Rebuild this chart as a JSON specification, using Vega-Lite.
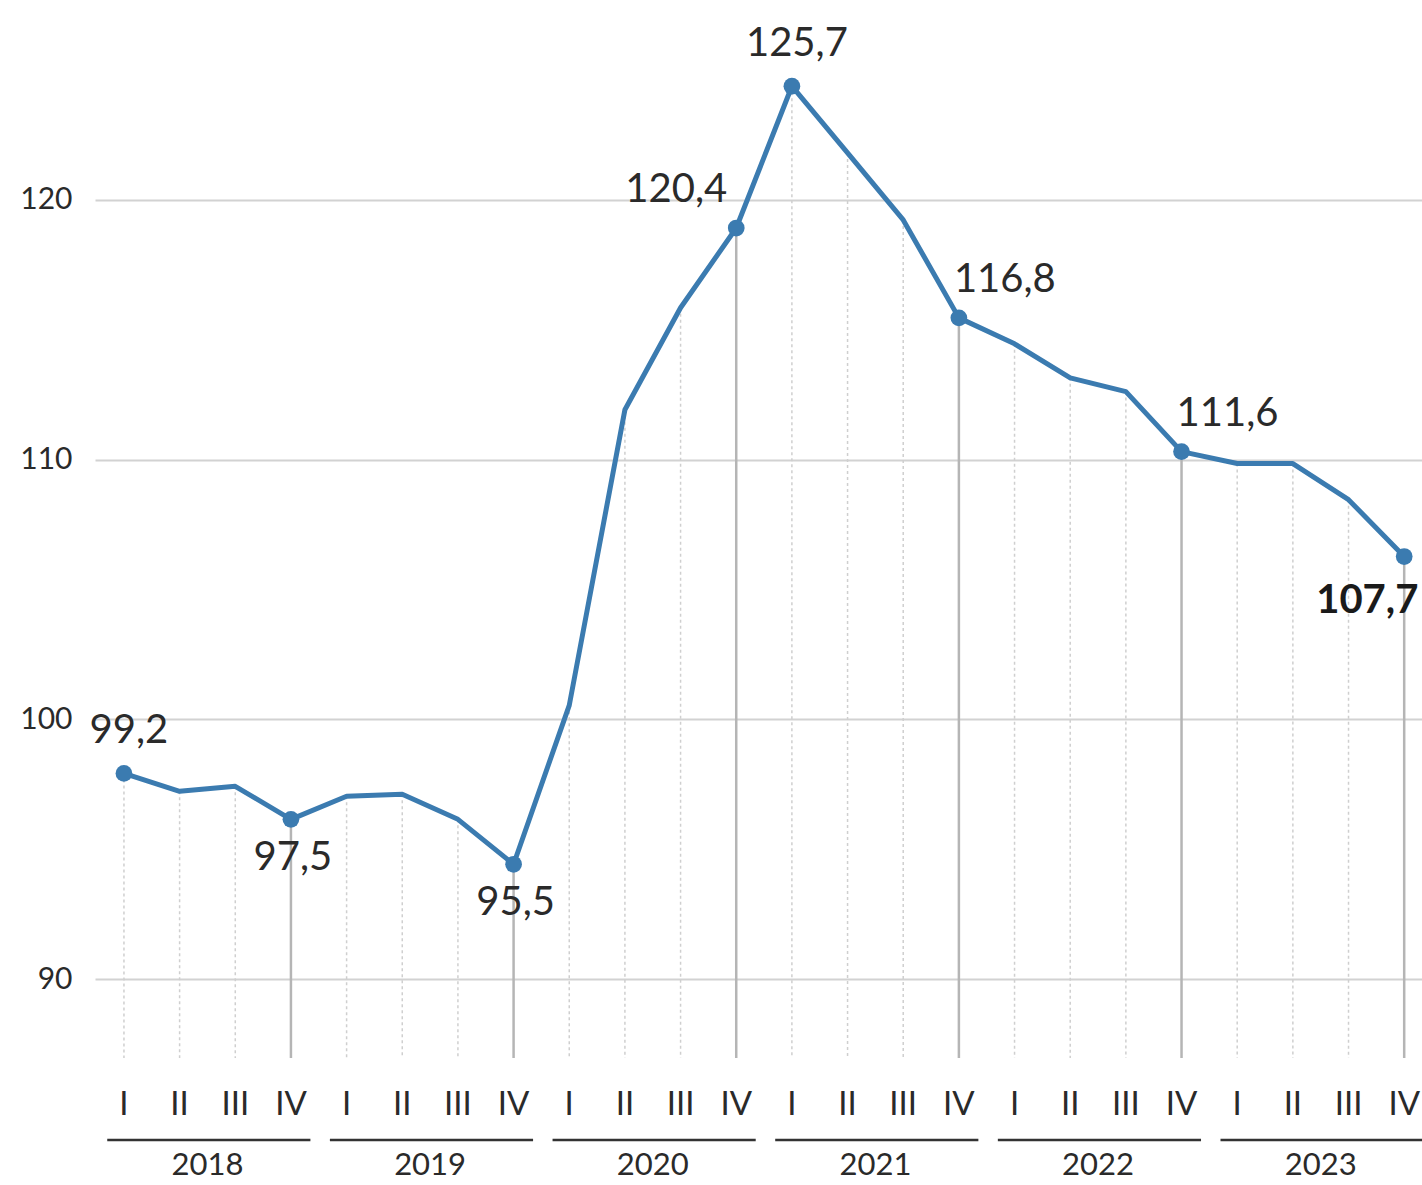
{
  "$schema": "https://vega.github.io/schema/vega-lite/v6.json",
  "autosize": {"type": "none"},
  "padding": {"left": 95, "top": 0, "right": 0, "bottom": 0},
  "width": 1327,
  "height": 1185,
  "background": "white",
  "config": {"view": {"stroke": null}, "text": {"font": "Lato"}},
  "layer": [
    {
      "data": {"name": "q"},
      "transform": [{"filter": "datum.q != 'IV'"}],
      "mark": {"type": "rule", "color": "#cfcfcf", "strokeWidth": 1.5, "strokeDash": [3, 3]},
      "encoding": {
        "x": {"field": "i", "type": "quantitative", "scale": {"domain": [-0.52, 23.32], "nice": false, "zero": false}, "axis": null},
        "y": {"field": "v", "type": "quantitative", "scale": {"domain": [82.07, 127.7], "nice": false, "zero": false},
          "axis": {"values": [90, 100, 110, 120], "title": null, "domain": false, "ticks": false, "grid": true, "gridColor": "#d2d2d2", "gridWidth": 2,
            "labelFont": "Lato", "labelFontSize": 30, "labelColor": "#2a2a2a", "labelPadding": 23}},
        "y2": {"datum": 86.96}
      }
    },
    {
      "data": {"name": "q"},
      "transform": [{"filter": "datum.q == 'IV'"}],
      "mark": {"type": "rule", "color": "#b5b5b5", "strokeWidth": 2.5},
      "encoding": {
        "x": {"field": "i", "type": "quantitative"},
        "y": {"field": "v", "type": "quantitative"},
        "y2": {"datum": 86.96}
      }
    },
    {
      "data": {"name": "years"},
      "mark": {"type": "rule", "color": "#333333", "strokeWidth": 2.5},
      "encoding": {
        "x": {"field": "s", "type": "quantitative"},
        "x2": {"field": "e"},
        "y": {"datum": 83.8, "type": "quantitative"}
      }
    },
    {
      "data": {"name": "years"},
      "mark": {"type": "text", "fontSize": 31, "color": "#2a2a2a", "baseline": "middle"},
      "encoding": {
        "x": {"field": "c", "type": "quantitative"},
        "y": {"datum": 82.8, "type": "quantitative"},
        "text": {"field": "yr", "type": "nominal"}
      }
    },
    {
      "data": {"name": "q"},
      "mark": {"type": "text", "fontSize": 33, "color": "#2a2a2a", "baseline": "middle"},
      "encoding": {
        "x": {"field": "i", "type": "quantitative"},
        "y": {"datum": 85.15, "type": "quantitative"},
        "text": {"field": "q"}
      }
    },
    {
      "data": {"name": "q"},
      "mark": {"type": "line", "color": "#3b7bb0", "strokeWidth": 5, "strokeJoin": "round"},
      "encoding": {
        "x": {"field": "i", "type": "quantitative"},
        "y": {"field": "v", "type": "quantitative"}
      }
    },
    {
      "data": {"name": "q"},
      "transform": [{"filter": "datum.label != null"}],
      "encoding": {
        "x": {"field": "i", "type": "quantitative"},
        "y": {"field": "v", "type": "quantitative"},
        "text": {"field": "label"}
      },
      "layer": [
        {"mark": {"type": "point", "filled": true, "opacity": 1, "color": "#3b7bb0", "size": 280}},
        {
          "transform": [{"filter": "datum.i == 0 || datum.i == 12"}],
          "mark": {"type": "text", "fontSize": 40, "color": "#2a2a2a", "baseline": "middle", "align": "center", "dx": 5, "dy": -42}
        },
        {
          "transform": [{"filter": "datum.i == 3 || datum.i == 7"}],
          "mark": {"type": "text", "fontSize": 40, "color": "#2a2a2a", "baseline": "middle", "align": "center", "dx": 2, "dy": 39}
        },
        {
          "transform": [{"filter": "datum.i == 11"}],
          "mark": {"type": "text", "fontSize": 40, "color": "#2a2a2a", "baseline": "middle", "align": "right", "dx": -9, "dy": -38}
        },
        {
          "transform": [{"filter": "datum.i == 15 || datum.i == 19"}],
          "mark": {"type": "text", "fontSize": 40, "color": "#2a2a2a", "baseline": "middle", "align": "left", "dx": -5, "dy": -38}
        },
        {
          "transform": [{"filter": "datum.i == 23"}],
          "mark": {"type": "text", "fontSize": 40, "fontWeight": "bold", "color": "#1a1a1a", "baseline": "middle", "align": "left", "dx": -88, "dy": 44}
        }
      ]
    }
  ],
  "datasets": {
    "q": [
      {"i": 0, "year": "2018", "q": "I", "v": 97.92, "label": "99,2"},
      {"i": 1, "year": "2018", "q": "II", "v": 97.23, "label": null},
      {"i": 2, "year": "2018", "q": "III", "v": 97.42, "label": null},
      {"i": 3, "year": "2018", "q": "IV", "v": 96.15, "label": "97,5"},
      {"i": 4, "year": "2019", "q": "I", "v": 97.04, "label": null},
      {"i": 5, "year": "2019", "q": "II", "v": 97.12, "label": null},
      {"i": 6, "year": "2019", "q": "III", "v": 96.15, "label": null},
      {"i": 7, "year": "2019", "q": "IV", "v": 94.42, "label": "95,5"},
      {"i": 8, "year": "2020", "q": "I", "v": 100.54, "label": null},
      {"i": 9, "year": "2020", "q": "II", "v": 111.92, "label": null},
      {"i": 10, "year": "2020", "q": "III", "v": 115.85, "label": null},
      {"i": 11, "year": "2020", "q": "IV", "v": 118.92, "label": "120,4"},
      {"i": 12, "year": "2021", "q": "I", "v": 124.38, "label": "125,7"},
      {"i": 13, "year": "2021", "q": "II", "v": 121.81, "label": null},
      {"i": 14, "year": "2021", "q": "III", "v": 119.23, "label": null},
      {"i": 15, "year": "2021", "q": "IV", "v": 115.46, "label": "116,8"},
      {"i": 16, "year": "2022", "q": "I", "v": 114.46, "label": null},
      {"i": 17, "year": "2022", "q": "II", "v": 113.15, "label": null},
      {"i": 18, "year": "2022", "q": "III", "v": 112.62, "label": null},
      {"i": 19, "year": "2022", "q": "IV", "v": 110.31, "label": "111,6"},
      {"i": 20, "year": "2023", "q": "I", "v": 109.85, "label": null},
      {"i": 21, "year": "2023", "q": "II", "v": 109.85, "label": null},
      {"i": 22, "year": "2023", "q": "III", "v": 108.46, "label": null},
      {"i": 23, "year": "2023", "q": "IV", "v": 106.27, "label": "107,7"}
    ],
    "years": [
      {"yr": "2018", "s": -0.3, "e": 3.35, "c": 1.5},
      {"yr": "2019", "s": 3.7, "e": 7.35, "c": 5.5},
      {"yr": "2020", "s": 7.7, "e": 11.35, "c": 9.5},
      {"yr": "2021", "s": 11.7, "e": 15.35, "c": 13.5},
      {"yr": "2022", "s": 15.7, "e": 19.35, "c": 17.5},
      {"yr": "2023", "s": 19.7, "e": 23.35, "c": 21.5}
    ]
  }
}
